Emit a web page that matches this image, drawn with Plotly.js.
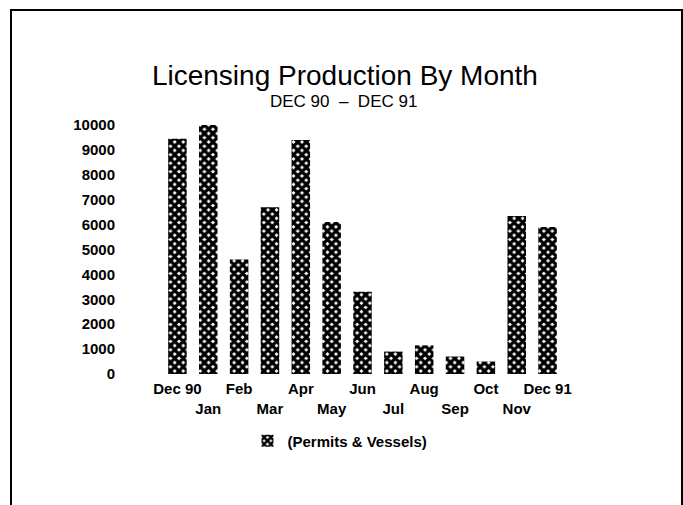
<!DOCTYPE html>
<html>
<head>
<meta charset="utf-8">
<script src="https://cdn.plot.ly/plotly-3.0.1.min.js"></script>
<style>
  html, body { margin: 0; padding: 0; background: #fff; }
  #wrap { position: relative; width: 683px; height: 505px; }
  #chart { width: 683px; height: 505px; }
  #frame { position: absolute; left: 10px; top: 9px; width: 669px; height: 500px;
           border-left: 2px solid #000; border-top: 2px solid #000; border-right: 2px solid #000;
           pointer-events: none; }
</style>
</head>
<body>
<div id="wrap">
  <div id="chart"></div>
  <div id="frame"></div>
</div>
<script>
const months = ["Dec 90", "Jan", "Feb", "Mar", "Apr", "May", "Jun", "Jul", "Aug", "Sep", "Oct", "Nov", "Dec 91"];
const permitsVessels = [9450, 10000, 4600, 6700, 9400, 6100, 3300, 900, 1150, 700, 500, 6350, 5900];
const yTickVals = [0, 1000, 2000, 3000, 4000, 5000, 6000, 7000, 8000, 9000, 10000];
const seriesName = "(Permits & Vessels)";
const titleText = "Licensing Production By Month";
const subtitleText = "DEC 90  –  DEC 91";

const staggered = months.map((m, i) => (i % 2 === 1 ? "<br>" + m : m));
const tickFont = { family: "Liberation Sans, Arial, sans-serif", size: 15, color: "#000", weight: "bold" };

const trace = {
  type: "bar",
  x: months,
  y: permitsVessels,
  name: seriesName,
  showlegend: true,
  marker: {
    color: "#000",
    line: { width: 0 },
    pattern: { shape: "x", fgcolor: "#000", bgcolor: "#fff", fillmode: "replace", size: 6, solidity: 0.78 }
  }
};

const layout = {
  width: 683, height: 505,
  paper_bgcolor: "#fff", plot_bgcolor: "#fff",
  margin: { l: 162, r: 120, t: 125, b: 131 },
  bargap: 0.4,
  title: {
    text: titleText,
    font: { family: "Liberation Sans, Arial, sans-serif", size: 28, color: "#000" },
    xref: "container", x: 0.505, xanchor: "center",
    yref: "container", y: 1 - 75 / 505, yanchor: "middle"
  },
  annotations: [{
    text: subtitleText, showarrow: false,
    xref: "paper", yref: "paper",
    x: (343 - 162) / 401, y: (374 - 102) / 249,
    xanchor: "center", yanchor: "middle",
    font: { family: "Liberation Sans, Arial, sans-serif", size: 17, color: "#000" }
  }],
  xaxis: {
    type: "category",
    range: [-0.5, 12.5],
    tickmode: "array", tickvals: months, ticktext: staggered,
    tickangle: 0,
    showgrid: false, zeroline: false, showline: false, ticks: "",
    ticklabelstandoff: 4,
    tickfont: tickFont
  },
  yaxis: {
    range: [0, 10000],
    tickmode: "array", tickvals: yTickVals, ticktext: yTickVals.map(String),
    showgrid: false, zeroline: false, showline: false, ticks: "",
    ticklabelstandoff: 46,
    tickfont: tickFont
  },
  showlegend: true,
  legend: {
    orientation: "h",
    xref: "container", x: 340 / 683, xanchor: "center",
    yref: "container", y: 1 - 441 / 505, yanchor: "middle",
    font: tickFont,
    bgcolor: "rgba(0,0,0,0)"
  }
};

Plotly.newPlot("chart", [trace], layout, { staticPlot: true, displayModeBar: false });
</script>
</body>
</html>
